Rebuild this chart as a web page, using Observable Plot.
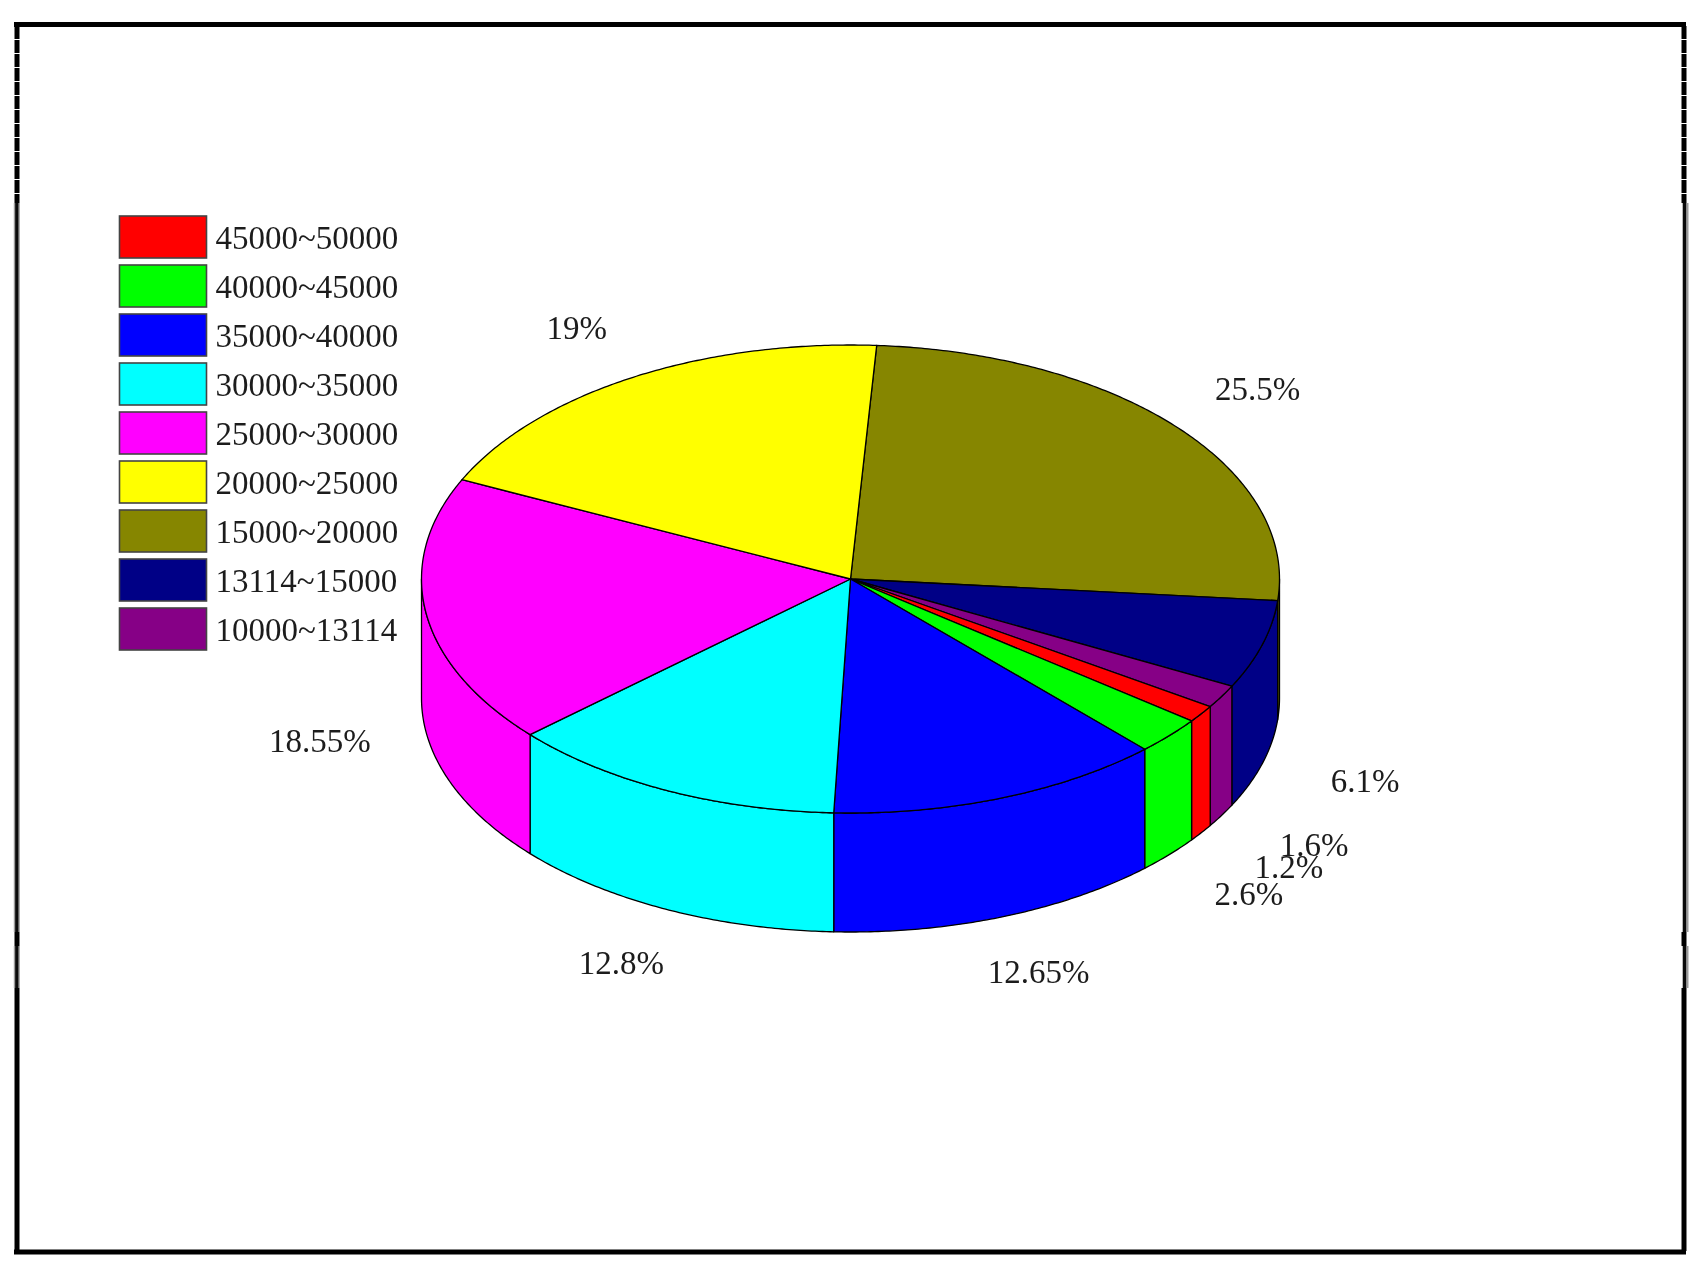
<!DOCTYPE html>
<html>
<head>
<meta charset="utf-8">
<script src="https://cdn.jsdelivr.net/npm/d3@7"></script>
<script src="https://cdn.jsdelivr.net/npm/@observablehq/plot@0.6"></script>
<style>
  html, body { margin: 0; padding: 0; background: #fff; overflow: hidden; }
  svg { display: block; }
  svg g[aria-label="text"] { filter: blur(0.45px); }
</style>
</head>
<body>
<div id="chart"></div>
<script>
// Data: pie slices clockwise, starting at the olive slice
const sliceRanges = ["15000~20000", "13114~15000", "10000~13114", "45000~50000", "40000~45000", "35000~40000", "30000~35000", "25000~30000", "20000~25000"];
const slicePercents = [25.5, 6.1, 1.6, 1.2, 2.6, 12.65, 12.8, 18.55, 19];
const sliceLabels = ["25.5%", "6.1%", "1.6%", "1.2%", "2.6%", "12.65%", "12.8%", "18.55%", "19%"];
// Legend, top to bottom
const legendRanges = ["45000~50000", "40000~45000", "35000~40000", "30000~35000", "25000~30000", "20000~25000", "15000~20000", "13114~15000", "10000~13114"];
const legendColors = ["#ff0000", "#00ff00", "#0000ff", "#00ffff", "#ff00ff", "#ffff00", "#868600", "#000086", "#860086"];

// Layout
const W = 1707, H = 1269;
const cx = 850, cy = 578.5, rx = 429, ry = 234, depth = 119;
const startDeg = 3.5, labelK = 1.25;
const font = "'Liberation Serif', serif";
const sx = t => cx + rx * Math.sin(t * Math.PI / 180);
const sy = t => cy - ry * Math.cos(t * Math.PI / 180);
const arc = (a, b) => { const n = Math.max(2, Math.ceil(Math.abs(b - a) * 2)); return d3.range(n + 1).map(i => a + (b - a) * i / n); };

let acc = startDeg;
const slices = sliceRanges.map((range, i) => {
  const a = acc, b = acc + slicePercents[i] * 3.6; acc = b;
  return {range, a, b, mid: (a + b) / 2, label: sliceLabels[i]};
});

const tops = [], walls = [];
slices.forEach((s, i) => {
  const top = [{x: cx, y: cy}, ...arc(s.a, s.b).map(t => ({x: sx(t), y: sy(t)})), {x: cx, y: cy}];
  top.forEach(p => tops.push({...p, key: i, range: s.range}));
  const a = Math.max(s.a, 90), b = Math.min(s.b, 270);
  if (b > a) {
    const ts = arc(a, b);
    const wall = [...ts.map(t => ({x: sx(t), y: sy(t)})), ...ts.slice().reverse().map(t => ({x: sx(t), y: sy(t) + depth}))];
    wall.push(wall[0]);
    wall.forEach(p => walls.push({...p, key: i, range: s.range}));
  }
});

const labels = slices.map(s => {
  const t = s.mid * Math.PI / 180, c = Math.cos(t);
  return {label: s.label, x: cx + labelK * rx * Math.sin(t), y: cy + 1 - labelK * ry * c + (c < 0 ? depth : 0)};
});

const legendTop = 216, legendPitch = 49, legendBox = 42;
const legend = legendRanges.map((range, i) => ({range, y1: legendTop + i * legendPitch, y2: legendTop + i * legendPitch + legendBox, y: legendTop + i * legendPitch + legendBox / 2 + 1}));

const dashedFrame = [{x: 16.5, y1: 26, y2: 203}, {x: 1683.5, y1: 26, y2: 203}];
const softSpans = [[203, 932], [946, 988]];
const softRows = softSpans.flatMap(([y1, y2]) => [{x: 16.3, xd: 16.3, y1, y2}, {x: 1685, xd: 1684, y1, y2}]);

const chart = Plot.plot({
  width: W, height: H, margin: 0,
  x: {domain: [0, W], range: [0, W], axis: null},
  y: {domain: [0, H], range: [0, H], axis: null},
  color: {type: "ordinal", domain: legendRanges, range: legendColors},
  style: {background: "#fff", fontFamily: font},
  marks: [
    // frame
    Plot.ruleY([24, 1251.5], {x1: 14, x2: 1686, stroke: "#000", strokeWidth: 5}),
    Plot.ruleX(dashedFrame, {x: "x", y1: "y1", y2: "y2", stroke: "#000", strokeWidth: 5, strokeDasharray: "13,1"}),
    Plot.ruleX(softRows, {x: "x", y1: "y1", y2: "y2", stroke: "#9a9a9a", strokeWidth: 6}),
    Plot.ruleX(softRows, {x: "xd", y1: "y1", y2: "y2", stroke: "#0a0a0a", strokeWidth: 3.2}),
    Plot.ruleX([16.5, 1683.5], {y1: 932, y2: 946, stroke: "#000", strokeWidth: 5}),
    Plot.ruleX([16.5, 1683.5], {y1: 988, y2: 1251, stroke: "#000", strokeWidth: 5}),
    // pie
    Plot.line(walls, {x: "x", y: "y", z: "key", fill: "range", stroke: "#000", strokeWidth: 1.3, curve: "linear"}),
    Plot.line(tops, {x: "x", y: "y", z: "key", fill: "range", stroke: "#000", strokeWidth: 1.3, curve: "linear"}),
    Plot.text(labels, {x: "x", y: "y", text: "label", fontSize: 33, fill: "#1c1c1c", textAnchor: "middle", lineAnchor: "middle"}),
    // legend
    Plot.rect(legend, {x1: 119.5, x2: 206.5, y1: "y1", y2: "y2", fill: "range", stroke: "#444", strokeWidth: 1.6}),
    Plot.text(legend, {x: 215, y: "y", text: "range", fontSize: 33, fill: "#1c1c1c", textAnchor: "start", lineAnchor: "middle"})
  ]
});
document.getElementById("chart").append(chart);
</script>
</body>
</html>
